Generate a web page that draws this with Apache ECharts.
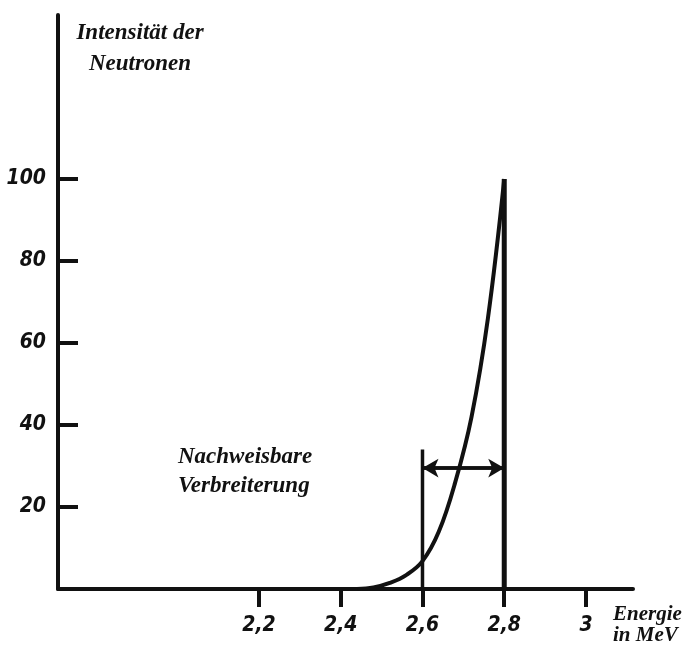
<!DOCTYPE html>
<html>
<head>
<meta charset="utf-8">
<script src="https://cdn.jsdelivr.net/npm/echarts@6/dist/echarts.min.js"></script>
<style>html,body{margin:0;padding:0;background:#fff}#c{width:690px;height:646px}</style>
</head>
<body>
<div id="c"></div>
<script>
// Data
const xTicks = [2.2, 2.4, 2.6, 2.8, 3];
const yTicks = [20, 40, 60, 80, 100];
const curveX = [2.44, 2.48, 2.52, 2.56, 2.60, 2.64, 2.68, 2.72, 2.76, 2.80];
const curveY = [0, 0.4, 1.5, 3.4, 6.8, 14, 26, 42, 66, 100];
const peakLine = [[2.8, 100], [2.8, 0]];
const leftLine = [[2.6, 34], [2.6, 0]];
const arrowSpan = [[2.6, 29.5], [2.8, 29.5]];
const yTitle = 'Intensität der\nNeutronen';
const xTitle = 'Energie\nin MeV';
const annotation = 'Nachweisbare\nVerbreiterung';

const ink = '#111';
const font = 'Liberation Serif';
const chart = echarts.init(document.getElementById('c'));
chart.setOption({
  backgroundColor: '#fff',
  animation: false,
  grid: { left: 58, right: 57, top: 15, bottom: 57 },
  xAxis: {
    type: 'value', min: 1.7083, max: 3.115,
    splitLine: { show: false },
    axisLine: { lineStyle: { color: ink, width: 4 } },
    axisTick: { customValues: xTicks, length: 18, inside: false, lineStyle: { color: ink, width: 4 } },
    axisLabel: {
      customValues: xTicks, margin: 26, color: ink, fontSize: 21, fontStyle: 'italic', fontWeight: 'bold',
      fontFamily: 'DejaVu Sans Condensed',
      formatter: v => String(Math.round(v * 10) / 10).replace('.', ',')
    }
  },
  yAxis: {
    type: 'value', min: 0, max: 140,
    splitLine: { show: false },
    axisLine: { lineStyle: { color: ink, width: 4 } },
    axisTick: { customValues: yTicks, length: 20, inside: true, lineStyle: { color: ink, width: 4 } },
    axisLabel: {
      customValues: yTicks, margin: 12, color: ink, fontSize: 21, fontStyle: 'italic', fontWeight: 'bold',
      fontFamily: 'DejaVu Sans Condensed'
    }
  },
  series: [
    { type: 'line', data: curveX.map((x, i) => [x, curveY[i]]), smooth: 0.4, showSymbol: false,
      lineStyle: { color: ink, width: 4 } },
    { type: 'line', data: peakLine, showSymbol: false, lineStyle: { color: ink, width: 5 } },
    { type: 'line', data: leftLine, showSymbol: false, lineStyle: { color: ink, width: 3.5 } },
    { type: 'line', data: arrowSpan, showSymbol: false, lineStyle: { color: ink, width: 3.5 },
      markLine: {
        silent: true, symbol: ['arrow', 'arrow'], symbolSize: [14, 16],
        label: { show: false },
        lineStyle: { color: ink, width: 3.5, type: 'solid' },
        data: [[{ coord: arrowSpan[0] }, { coord: arrowSpan[1] }]]
      } }
  ],
  graphic: [
    { type: 'text', x: 140, y: 18, style: { text: yTitle, fill: ink, align: 'center', font: 'italic bold 23px "' + font + '"', lineHeight: 31 } },
    { type: 'text', left: 613, top: 604, style: { text: xTitle, fill: ink, font: 'italic bold 21px "' + font + '"', lineHeight: 21 } },
    { type: 'text', left: 178, top: 443, style: { text: annotation, fill: ink, font: 'italic bold 23px "' + font + '"', lineHeight: 29 } }
  ]
});
</script>
</body>
</html>
